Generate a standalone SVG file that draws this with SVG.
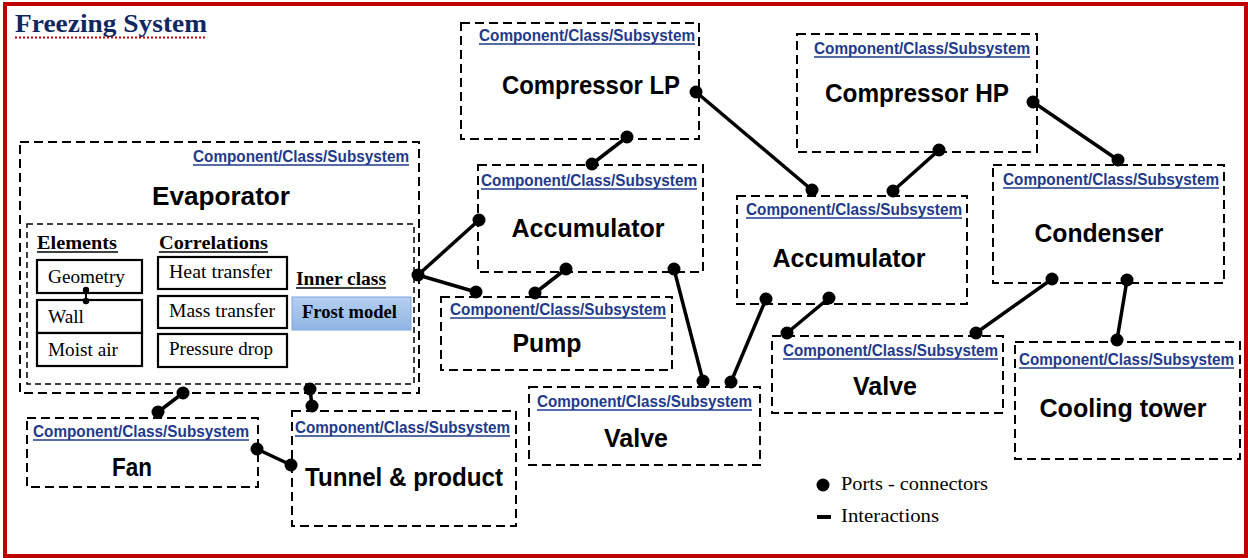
<svg xmlns="http://www.w3.org/2000/svg" width="1248" height="558" viewBox="0 0 1248 558">
<defs>
<linearGradient id="frost" x1="0" y1="0" x2="0" y2="1">
<stop offset="0" stop-color="#b4cff0"/>
<stop offset="1" stop-color="#8fb5e3"/>
</linearGradient>
<style>
.dash{fill:none;stroke:#000;stroke-width:2;stroke-dasharray:9 5}
.dash2{fill:none;stroke:#000;stroke-width:1.5;stroke-dasharray:6 4}
.cl{font-family:"Liberation Sans",Arial,sans-serif;font-weight:bold;font-size:16px;fill:#1f3a8a}
.ul{stroke:#1f3a8a;stroke-width:1.3}
.tt{font-family:"Liberation Sans",Arial,sans-serif;font-weight:bold;font-size:25px;fill:#000;text-anchor:middle}
.sf{font-family:"Liberation Serif","Times New Roman",serif;font-size:18px;fill:#000}
.sfb{font-family:"Liberation Serif","Times New Roman",serif;font-size:18px;font-weight:bold;fill:#000}
.box{fill:#fff;stroke:#000;stroke-width:2.2}
.bl{stroke:#000;stroke-width:1.5}
.con{stroke:#000;stroke-width:3.5;fill:none}
.port{fill:#000}
</style>
</defs>
<rect x="0" y="0" width="1248" height="558" fill="#fff"/>
<rect x="5" y="4" width="1241" height="552" fill="none" stroke="#c00000" stroke-width="4"/>
<g id="title">
<text x="15" y="32" font-family="'Liberation Serif','Times New Roman',serif" font-weight="bold" font-size="26" fill="#10275f" textLength="192" lengthAdjust="spacingAndGlyphs">Freezing System</text>
<line x1="15" y1="37.5" x2="206" y2="37.5" stroke="#c00000" stroke-width="2" stroke-dasharray="2 2"/>
</g>
<g id="evaporator">
<rect class="dash" x="20" y="142" width="399" height="251"/>
<text class="cl" x="193" y="162" textLength="216" lengthAdjust="spacingAndGlyphs">Component/Class/Subsystem</text>
<line class="ul" x1="193" y1="165" x2="409" y2="165"/>
<text class="tt" x="221" y="205" textLength="138" lengthAdjust="spacingAndGlyphs">Evaporator</text>
<rect class="dash2" x="27" y="224" width="387" height="160"/>
<text class="sfb" x="37" y="249" textLength="80" lengthAdjust="spacingAndGlyphs">Elements</text>
<line class="bl" x1="37" y1="252" x2="118" y2="252"/>
<text class="sfb" x="159" y="249" textLength="109" lengthAdjust="spacingAndGlyphs">Correlations</text>
<line class="bl" x1="159" y1="252" x2="268" y2="252"/>
<rect class="box" x="37" y="260" width="105" height="33"/>
<text class="sf" x="48" y="283" textLength="77" lengthAdjust="spacingAndGlyphs">Geometry</text>
<rect class="box" x="37" y="300" width="105" height="33"/>
<text class="sf" x="48" y="323" textLength="36" lengthAdjust="spacingAndGlyphs">Wall</text>
<rect class="box" x="37" y="333" width="105" height="33"/>
<text class="sf" x="48" y="356" textLength="70" lengthAdjust="spacingAndGlyphs">Moist air</text>
<rect class="box" x="158" y="257" width="129" height="32"/>
<text class="sf" x="169" y="278" textLength="103" lengthAdjust="spacingAndGlyphs">Heat transfer</text>
<rect class="box" x="158" y="296" width="129" height="32"/>
<text class="sf" x="169" y="317" textLength="106" lengthAdjust="spacingAndGlyphs">Mass transfer</text>
<rect class="box" x="158" y="334" width="129" height="33"/>
<text class="sf" x="169" y="355" textLength="104" lengthAdjust="spacingAndGlyphs">Pressure drop</text>
<text class="sfb" x="296" y="285" textLength="90" lengthAdjust="spacingAndGlyphs">Inner class</text>
<line class="bl" x1="296" y1="288" x2="386" y2="288"/>
<rect x="292" y="297" width="119" height="33" fill="url(#frost)" stroke="#7ea8dc" stroke-width="1"/>
<text class="sfb" x="302" y="318" textLength="95" lengthAdjust="spacingAndGlyphs">Frost model</text>
</g>
<g id="compressor-lp">
<rect class="dash" x="461" y="23" width="238" height="116"/>
<text class="cl" x="479" y="41" textLength="216" lengthAdjust="spacingAndGlyphs">Component/Class/Subsystem</text>
<line class="ul" x1="479" y1="44" x2="695" y2="44"/>
<text class="tt" x="591" y="94" textLength="178" lengthAdjust="spacingAndGlyphs">Compressor LP</text>
</g>
<g id="accumulator-1">
<rect class="dash" x="478" y="165" width="225" height="107"/>
<text class="cl" x="481" y="186" textLength="216" lengthAdjust="spacingAndGlyphs">Component/Class/Subsystem</text>
<line class="ul" x1="481" y1="189" x2="697" y2="189"/>
<text class="tt" x="588" y="237" textLength="153" lengthAdjust="spacingAndGlyphs">Accumulator</text>
</g>
<g id="pump">
<rect class="dash" x="441" y="297" width="231" height="73"/>
<text class="cl" x="450" y="315" textLength="216" lengthAdjust="spacingAndGlyphs">Component/Class/Subsystem</text>
<line class="ul" x1="450" y1="318" x2="666" y2="318"/>
<text class="tt" x="547" y="352" textLength="69" lengthAdjust="spacingAndGlyphs">Pump</text>
</g>
<g id="valve-1">
<rect class="dash" x="529" y="387" width="231" height="78"/>
<text class="cl" x="537" y="407" textLength="215" lengthAdjust="spacingAndGlyphs">Component/Class/Subsystem</text>
<line class="ul" x1="537" y1="410" x2="752" y2="410"/>
<text class="tt" x="636" y="447" textLength="64" lengthAdjust="spacingAndGlyphs">Valve</text>
</g>
<g id="compressor-hp">
<rect class="dash" x="797" y="34" width="240" height="118"/>
<text class="cl" x="814" y="54" textLength="216" lengthAdjust="spacingAndGlyphs">Component/Class/Subsystem</text>
<line class="ul" x1="814" y1="57" x2="1030" y2="57"/>
<text class="tt" x="917" y="102" textLength="184" lengthAdjust="spacingAndGlyphs">Compressor HP</text>
</g>
<g id="accumulator-2">
<rect class="dash" x="737" y="196" width="230" height="108"/>
<text class="cl" x="746" y="215" textLength="216" lengthAdjust="spacingAndGlyphs">Component/Class/Subsystem</text>
<line class="ul" x1="746" y1="218" x2="962" y2="218"/>
<text class="tt" x="849" y="267" textLength="153" lengthAdjust="spacingAndGlyphs">Accumulator</text>
</g>
<g id="condenser">
<rect class="dash" x="993" y="165" width="231" height="118"/>
<text class="cl" x="1003" y="185" textLength="216" lengthAdjust="spacingAndGlyphs">Component/Class/Subsystem</text>
<line class="ul" x1="1003" y1="188" x2="1219" y2="188"/>
<text class="tt" x="1099" y="242" textLength="129" lengthAdjust="spacingAndGlyphs">Condenser</text>
</g>
<g id="valve-2">
<rect class="dash" x="772" y="336" width="231" height="77"/>
<text class="cl" x="783" y="356" textLength="215" lengthAdjust="spacingAndGlyphs">Component/Class/Subsystem</text>
<line class="ul" x1="783" y1="359" x2="998" y2="359"/>
<text class="tt" x="885" y="395" textLength="64" lengthAdjust="spacingAndGlyphs">Valve</text>
</g>
<g id="cooling-tower">
<rect class="dash" x="1015" y="342" width="225" height="117"/>
<text class="cl" x="1019" y="365" textLength="215" lengthAdjust="spacingAndGlyphs">Component/Class/Subsystem</text>
<line class="ul" x1="1019" y1="368" x2="1234" y2="368"/>
<text class="tt" x="1123" y="417" textLength="167" lengthAdjust="spacingAndGlyphs">Cooling tower</text>
</g>
<g id="fan">
<rect class="dash" x="27" y="418" width="231" height="69"/>
<text class="cl" x="33" y="437" textLength="216" lengthAdjust="spacingAndGlyphs">Component/Class/Subsystem</text>
<line class="ul" x1="33" y1="440" x2="249" y2="440"/>
<text class="tt" x="132" y="476" textLength="40" lengthAdjust="spacingAndGlyphs">Fan</text>
</g>
<g id="tunnel-product">
<rect class="dash" x="292" y="411" width="224" height="115"/>
<text class="cl" x="295" y="433" textLength="215" lengthAdjust="spacingAndGlyphs">Component/Class/Subsystem</text>
<line class="ul" x1="295" y1="436" x2="510" y2="436"/>
<text class="tt" x="404" y="486" textLength="198" lengthAdjust="spacingAndGlyphs">Tunnel &amp; product</text>
</g>
<g id="connectors">
<line class="con" x1="418" y1="275" x2="479" y2="220"/>
<line class="con" x1="418" y1="275" x2="476" y2="292"/>
<line class="con" x1="627" y1="137" x2="592" y2="164"/>
<line class="con" x1="696" y1="92" x2="812" y2="190"/>
<line class="con" x1="939" y1="150" x2="893" y2="191"/>
<line class="con" x1="1033" y1="102" x2="1118" y2="160"/>
<line class="con" x1="566" y1="269" x2="535" y2="293"/>
<line class="con" x1="674" y1="269" x2="703" y2="381"/>
<line class="con" x1="766" y1="299" x2="731" y2="382"/>
<line class="con" x1="829" y1="298" x2="787" y2="333"/>
<line class="con" x1="1052" y1="279" x2="976" y2="333"/>
<line class="con" x1="1127" y1="280" x2="1117" y2="340"/>
<line class="con" x1="183" y1="393" x2="158" y2="412"/>
<line class="con" x1="310" y1="389" x2="312" y2="406"/>
<line class="con" x1="257" y1="449" x2="291" y2="465"/>
<line stroke="#000" stroke-width="2" x1="86" y1="290" x2="86" y2="301"/>
<g class="port">
<circle cx="418" cy="275" r="6.5"/>
<circle cx="479" cy="220" r="6.5"/>
<circle cx="476" cy="292" r="6.5"/>
<circle cx="627" cy="137" r="6.5"/>
<circle cx="592" cy="164" r="6.5"/>
<circle cx="696" cy="92" r="6.5"/>
<circle cx="812" cy="190" r="6.5"/>
<circle cx="939" cy="150" r="6.5"/>
<circle cx="893" cy="191" r="6.5"/>
<circle cx="1033" cy="102" r="6.5"/>
<circle cx="1118" cy="160" r="6.5"/>
<circle cx="566" cy="269" r="6.5"/>
<circle cx="535" cy="293" r="6.5"/>
<circle cx="674" cy="269" r="6.5"/>
<circle cx="703" cy="381" r="6.5"/>
<circle cx="766" cy="299" r="6.5"/>
<circle cx="731" cy="382" r="6.5"/>
<circle cx="829" cy="298" r="6.5"/>
<circle cx="787" cy="333" r="6.5"/>
<circle cx="1052" cy="279" r="6.5"/>
<circle cx="976" cy="333" r="6.5"/>
<circle cx="1127" cy="280" r="6.5"/>
<circle cx="1117" cy="340" r="6.5"/>
<circle cx="183" cy="393" r="6.5"/>
<circle cx="158" cy="412" r="6.5"/>
<circle cx="310" cy="389" r="6.5"/>
<circle cx="312" cy="406" r="6.5"/>
<circle cx="257" cy="449" r="6.5"/>
<circle cx="291" cy="465" r="6.5"/>
<circle cx="86" cy="290" r="3.2"/>
<circle cx="86" cy="301" r="3.2"/>
</g>
</g>
<g id="legend">
<circle cx="823" cy="485" r="6.5" fill="#000"/>
<text class="sf" x="841" y="490" textLength="147" lengthAdjust="spacingAndGlyphs">Ports - connectors</text>
<line x1="817" y1="517" x2="831" y2="517" stroke="#000" stroke-width="4"/>
<text class="sf" x="841" y="522" textLength="98" lengthAdjust="spacingAndGlyphs">Interactions</text>
</g>
</svg>
